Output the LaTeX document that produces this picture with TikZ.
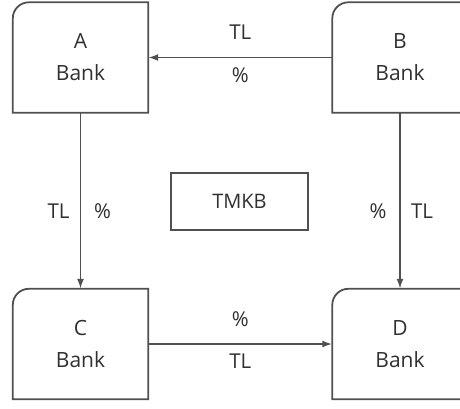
\documentclass[tikz,border=0pt]{standalone}
\usepackage{fontspec}
\setmainfont{Open Sans}
\usetikzlibrary{arrows.meta}
\definecolor{ink}{HTML}{303030}
\definecolor{linec}{HTML}{505050}
\begin{document}
\begin{tikzpicture}[x=1pt,y=-1pt,
  bankbox/.style={minimum width=135pt,minimum height=110pt,inner sep=0pt,align=center,
    font=\fontsize{21}{32}\selectfont,text=ink},
  lbl/.style={font=\fontsize{20.5}{22}\selectfont,text=ink,inner sep=0pt},
  conn/.style={draw=linec,line width=1.8pt,-{Latex[length=10pt,width=7pt]}},
  outline/.style={draw=linec,line width=1.8pt}]
\useasboundingbox (0,0) rectangle (460,408);
\node[bankbox] (A) at (80.5,57.5) {A\\Bank};
\node[bankbox] (B) at (400,57.5) {B\\Bank};
\node[bankbox] (C) at (80.5,344) {C\\Bank};
\node[bankbox] (D) at (400,344) {D\\Bank};
\node[draw=linec,line width=1.8pt,minimum width=137pt,minimum height=57pt,
  font=\fontsize{20}{22}\selectfont,text=ink] (T) at (239.5,201.5) {TMKB};
\foreach \n in {A,B,C,D}{
  \draw[outline] (\n.south west) -- ([yshift=-16pt]\n.north west)
    arc[start angle=180,end angle=90,radius=16pt] -- (\n.north east)
    -- (\n.south east) -- cycle;
}
\draw[conn] (B.west) -- (A.east)
  node[midway,lbl,yshift=25pt] {TL}
  node[midway,lbl,yshift=-18pt] {\%};
\draw[conn] (A.south) -- (C.north)
  node[midway,lbl,xshift=-22pt,yshift=-10pt] {TL}
  node[midway,lbl,xshift=22pt,yshift=-10pt] {\%};
\draw[conn] (B.south) -- (D.north)
  node[midway,lbl,xshift=-22pt,yshift=-10pt] {\%}
  node[midway,lbl,xshift=22pt,yshift=-10pt] {TL};
\draw[conn] (C.east) -- (D.west)
  node[midway,lbl,yshift=25pt] {\%}
  node[midway,lbl,yshift=-17pt] {TL};
\end{tikzpicture}
\end{document}
